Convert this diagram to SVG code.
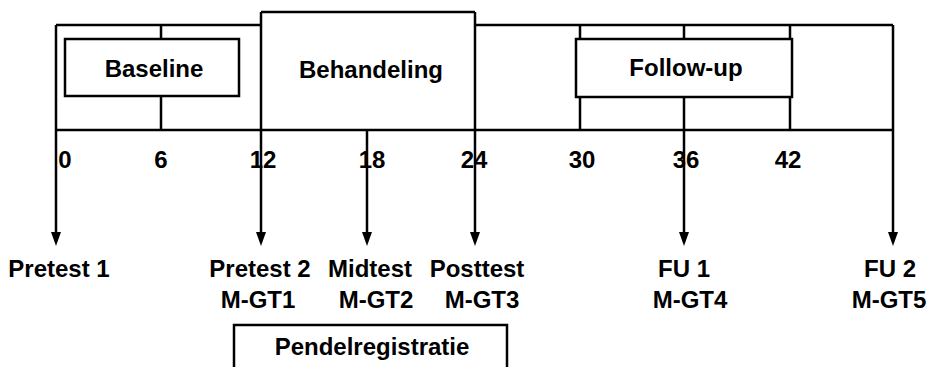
<svg xmlns="http://www.w3.org/2000/svg" width="930" height="367" viewBox="0 0 930 367">
<defs>
<marker id="ah" markerUnits="userSpaceOnUse" markerWidth="16" markerHeight="12" viewBox="0 0 16 12" refX="2" refY="6" orient="auto">
<path d="M0,1 L0,11 L14,6 Z" fill="#000"/>
</marker>
</defs>
<style>
text{font-family:"Liberation Sans",Arial,sans-serif;font-weight:bold;font-size:24px;fill:#000;text-anchor:middle}
.ln{stroke:#000;stroke-width:2.5;fill:none}
.box{stroke:#000;stroke-width:2.5;fill:#fff}
.arr{stroke:#000;stroke-width:2.5;fill:none}
</style>
<rect width="930" height="367" fill="#fff"/>
<g id="connectors">
<path class="ln" d="M56,25 H261 M475,25 H893 M261,12 H475 M56,130 H893"/>
<path class="ln" d="M161,25 V39 M161,96 V130 M580,25 V39 M580,97 V130 M684,25 V39 M790,25 V39 M790,97 V130"/>
<line class="arr" x1="56" y1="25" x2="56" y2="234" marker-end="url(#ah)"/>
<line class="arr" x1="261" y1="12" x2="261" y2="234" marker-end="url(#ah)"/>
<line class="arr" x1="367" y1="130" x2="367" y2="234" marker-end="url(#ah)"/>
<line class="arr" x1="475" y1="12" x2="475" y2="234" marker-end="url(#ah)"/>
<line class="arr" x1="684" y1="97" x2="684" y2="234" marker-end="url(#ah)"/>
<line class="arr" x1="893" y1="25" x2="893" y2="234" marker-end="url(#ah)"/>
</g>
<g id="baseline">
<rect class="box" x="65" y="39" width="174" height="57"/>
<text x="154" y="77">Baseline</text>
</g>
<g id="behandeling">
<text x="371" y="78">Behandeling</text>
</g>
<g id="followup">
<rect class="box" x="576" y="39" width="216" height="58"/>
<text x="686" y="76">Follow-up</text>
</g>
<g id="ticks">
<text x="65" y="168">0</text>
<text x="161" y="168">6</text>
<text x="263" y="168">12</text>
<text x="372" y="168">18</text>
<text x="474" y="168">24</text>
<text x="582" y="168">30</text>
<text x="686" y="168">36</text>
<text x="788" y="168">42</text>
</g>
<g id="pretest1"><text x="59" y="277">Pretest 1</text></g>
<g id="pretest2"><text x="260" y="277">Pretest 2</text><text x="258" y="308">M-GT1</text></g>
<g id="midtest"><text x="370" y="277">Midtest</text><text x="376" y="308">M-GT2</text></g>
<g id="posttest"><text x="477" y="277">Posttest</text><text x="482" y="308">M-GT3</text></g>
<g id="fu1"><text x="684" y="277">FU 1</text><text x="690" y="308">M-GT4</text></g>
<g id="fu2"><text x="890" y="277">FU 2</text><text x="889" y="308">M-GT5</text></g>
<g id="pendelregistratie">
<rect class="box" x="234" y="325" width="273" height="60"/>
<text x="372" y="355">Pendelregistratie</text>
</g>
</svg>
